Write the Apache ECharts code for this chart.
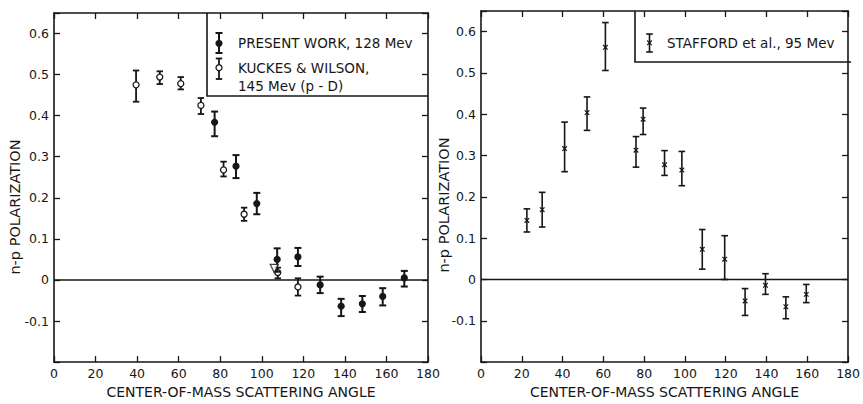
<!DOCTYPE html>
<html>
<head>
<meta charset="utf-8">
<title>n-p polarization</title>
<script src="https://cdn.jsdelivr.net/npm/echarts@6.0.0/dist/echarts.min.js"></script>
<style>
  html, body { margin: 0; padding: 0; background: #fff; }
  #chart { width: 863px; height: 404px; }
</style>
</head>
<body>
<div id="chart"></div>
<script>
// 左图：本工作 128 Mev（实心点）
const presentX  = [77.3, 87.6, 97.6, 107.4, 117.4, 128.1, 138.2, 148.4, 158.2, 168.6];
const presentY  = [0.384, 0.277, 0.186, 0.050, 0.056, -0.012, -0.064, -0.058, -0.040, 0.005];
const presentLo = [0.350, 0.248, 0.160, 0.020, 0.034, -0.032, -0.088, -0.078, -0.062, -0.016];
const presentHi = [0.410, 0.304, 0.212, 0.077, 0.078, 0.008, -0.046, -0.039, -0.020, 0.022];

// 左图：Kuckes & Wilson 145 Mev (p-D)（空心点）
const kuckesX  = [39.5, 50.9, 61.0, 70.7, 81.6, 91.5, 107.7, 117.4];
const kuckesY  = [0.475, 0.494, 0.478, 0.425, 0.268, 0.160, 0.018, -0.017];
const kuckesLo = [0.434, 0.477, 0.464, 0.404, 0.252, 0.144, 0.004, -0.038];
const kuckesHi = [0.510, 0.508, 0.494, 0.443, 0.288, 0.176, 0.030, 0.004];

// 左图：三角形标记
const triangleX = [106];
const triangleY = [0.028];

// 右图：Stafford et al. 95 Mev（叉号）
const staffordX  = [22.5, 30.0, 41.0, 52.0, 61.0, 76.0, 79.5, 90.0, 98.5, 108.5, 119.5, 129.5, 139.5, 149.5, 159.5];
const staffordY  = [0.143, 0.169, 0.317, 0.404, 0.562, 0.313, 0.388, 0.278, 0.265, 0.073, 0.049, -0.052, -0.014, -0.066, -0.036];
const staffordLo = [0.115, 0.127, 0.261, 0.361, 0.506, 0.272, 0.351, 0.252, 0.227, 0.025, 0.000, -0.087, -0.036, -0.095, -0.056];
const staffordHi = [0.171, 0.211, 0.381, 0.442, 0.622, 0.346, 0.415, 0.312, 0.310, 0.121, 0.106, -0.022, 0.014, -0.042, -0.012];

// 坐标轴范围与刻度
const xTicks = [0, 20, 40, 60, 80, 100, 120, 140, 160, 180];
const yTickLabels = ['-0.1', '0', '0.1', '0.2', '0.3', '0.4', '0.5', '0.6'];
const zeroLine = [[0, 0], [180, 0]];

const ink = '#161616';
const font = 'DejaVu Sans';

function rows(xs, ys, los, his) {
  return xs.map((x, i) => [x, ys[i], los[i], his[i]]);
}

function errorBars(kind, capW, lw) {
  return function (params, api) {
    const x = api.value(0);
    const p = api.coord([x, api.value(1)]);
    const lo = api.coord([x, api.value(2)]);
    const hi = api.coord([x, api.value(3)]);
    const line = (x1, y1, x2, y2, w) => ({
      type: 'line',
      shape: { x1: x1, y1: y1, x2: x2, y2: y2 },
      style: { stroke: ink, lineWidth: w }
    });
    const children = [
      line(p[0], hi[1], p[0], lo[1], lw),
      line(p[0] - capW, hi[1], p[0] + capW, hi[1], lw),
      line(p[0] - capW, lo[1], p[0] + capW, lo[1], lw)
    ];
    if (kind === 'filled') {
      children.push({ type: 'circle', shape: { cx: p[0], cy: p[1], r: 3.6 }, style: { fill: ink } });
    } else if (kind === 'open') {
      children.push({ type: 'circle', shape: { cx: p[0], cy: p[1], r: 3 }, style: { fill: '#fff', stroke: ink, lineWidth: 1.3 } });
    } else {
      children.push(line(p[0] - 2.3, p[1] - 2.3, p[0] + 2.3, p[1] + 2.3, 1.2));
      children.push(line(p[0] - 2.3, p[1] + 2.3, p[0] + 2.3, p[1] - 2.3, 1.2));
    }
    return { type: 'group', children: children };
  };
}

function xAxisPair(gridIndex) {
  const base = {
    gridIndex: gridIndex,
    type: 'value',
    min: xTicks[0],
    max: xTicks[xTicks.length - 1],
    interval: 20,
    splitLine: { show: false },
    axisLine: { onZero: false, lineStyle: { color: ink, width: 1.6 } },
    axisTick: { inside: true, length: 6, lineStyle: { color: ink, width: 1.3 } }
  };
  return [
    Object.assign({}, base, {
      position: 'bottom',
      name: 'CENTER-OF-MASS SCATTERING ANGLE',
      nameLocation: 'middle',
      nameGap: gridIndex === 0 ? 17 : 18,
      nameTextStyle: { fontFamily: font, fontSize: 14, color: ink },
      axisLabel: { fontFamily: font, fontSize: 12.5, color: ink, margin: 5 }
    }),
    Object.assign({}, base, { position: 'top', axisLabel: { show: false } })
  ];
}

function yAxisPair(gridIndex) {
  const base = {
    gridIndex: gridIndex,
    type: 'value',
    min: -0.2,
    max: 0.65,
    interval: 0.1,
    splitLine: { show: false },
    axisLine: { onZero: false, lineStyle: { color: ink, width: 1.6 } },
    axisTick: { inside: true, length: 6, lineStyle: { color: ink, width: 1.3 } }
  };
  return [
    Object.assign({}, base, {
      position: 'left',
      axisLabel: {
        fontFamily: font, fontSize: 12.5, color: ink, margin: 5,
        formatter: function (v) {
          const s = String(Math.round(v * 10) / 10);
          return yTickLabels.indexOf(s) >= 0 && Math.abs(v * 10 - Math.round(v * 10)) < 1e-6 ? s : '';
        }
      }
    }),
    Object.assign({}, base, { position: 'right', axisLabel: { show: false } })
  ];
}

const chart = echarts.init(document.getElementById('chart'), null, { renderer: 'svg' });

const option = {
  backgroundColor: '#fff',
  animation: false,
  grid: [
    { left: 54, top: 13, right: 435, bottom: 38 },
    { left: 481, top: 11, right: 12, bottom: 40 }
  ],
  xAxis: xAxisPair(0).concat(xAxisPair(1)),
  yAxis: yAxisPair(0).concat(yAxisPair(1)),
  series: [
    {
      type: 'line', xAxisIndex: 0, yAxisIndex: 0, data: zeroLine, symbol: 'none',
      lineStyle: { color: ink, width: 1.4 }, silent: true
    },
    {
      type: 'line', xAxisIndex: 2, yAxisIndex: 2, data: zeroLine, symbol: 'none',
      lineStyle: { color: ink, width: 1.4 }, silent: true
    },
    {
      name: 'KUCKES & WILSON, 145 Mev (p - D)',
      type: 'custom', xAxisIndex: 0, yAxisIndex: 0,
      renderItem: errorBars('open', 3.2, 1.8),
      encode: { x: 0, y: 1 },
      data: rows(kuckesX, kuckesY, kuckesLo, kuckesHi)
    },
    {
      name: 'PRESENT WORK, 128 Mev',
      type: 'custom', xAxisIndex: 0, yAxisIndex: 0,
      renderItem: errorBars('filled', 3.5, 2),
      encode: { x: 0, y: 1 },
      data: rows(presentX, presentY, presentLo, presentHi)
    },
    {
      type: 'scatter', xAxisIndex: 0, yAxisIndex: 0,
      symbol: 'triangle', symbolRotate: 180, symbolSize: 8,
      itemStyle: { color: '#fff', borderColor: ink, borderWidth: 1.3 },
      data: triangleX.map((x, i) => [x, triangleY[i]])
    },
    {
      name: 'STAFFORD et al., 95 Mev',
      type: 'custom', xAxisIndex: 2, yAxisIndex: 2,
      renderItem: errorBars('cross', 3.3, 1.6),
      encode: { x: 0, y: 1 },
      data: rows(staffordX, staffordY, staffordLo, staffordHi)
    }
  ],
  graphic: [
    // 纵轴标题
    {
      type: 'text', x: 15, y: 207, rotation: Math.PI / 2,
      style: { text: 'n-p POLARIZATION', fontFamily: font, fontSize: 14.5, fill: ink, align: 'center', verticalAlign: 'middle' }
    },
    {
      type: 'text', x: 444, y: 205, rotation: Math.PI / 2,
      style: { text: 'n-p POLARIZATION', fontFamily: font, fontSize: 14.5, fill: ink, align: 'center', verticalAlign: 'middle' }
    },
    // 左图图例
    {
      type: 'polyline', shape: { points: [[207, 13], [207, 96], [428, 96]] },
      style: { stroke: ink, lineWidth: 1.6, fill: null }
    },
    {
      type: 'group', children: [
        { type: 'line', shape: { x1: 219, y1: 33, x2: 219, y2: 53 }, style: { stroke: ink, lineWidth: 2 } },
        { type: 'line', shape: { x1: 215.5, y1: 33, x2: 222.5, y2: 33 }, style: { stroke: ink, lineWidth: 2 } },
        { type: 'line', shape: { x1: 215.5, y1: 53, x2: 222.5, y2: 53 }, style: { stroke: ink, lineWidth: 2 } },
        { type: 'circle', shape: { cx: 219, cy: 43.3, r: 3.6 }, style: { fill: ink } },
        { type: 'line', shape: { x1: 219, y1: 58.5, x2: 219, y2: 79 }, style: { stroke: ink, lineWidth: 1.8 } },
        { type: 'line', shape: { x1: 215.8, y1: 58.5, x2: 222.2, y2: 58.5 }, style: { stroke: ink, lineWidth: 1.8 } },
        { type: 'line', shape: { x1: 215.8, y1: 79, x2: 222.2, y2: 79 }, style: { stroke: ink, lineWidth: 1.8 } },
        { type: 'circle', shape: { cx: 219, cy: 67.7, r: 3 }, style: { fill: '#fff', stroke: ink, lineWidth: 1.3 } }
      ]
    },
    {
      type: 'text', x: 238, y: 43,
      style: { text: 'PRESENT WORK, 128 Mev', fontFamily: font, fontSize: 13.5, fill: ink, verticalAlign: 'middle' }
    },
    {
      type: 'text', x: 238, y: 68,
      style: { text: 'KUCKES & WILSON,', fontFamily: font, fontSize: 13.5, fill: ink, verticalAlign: 'middle' }
    },
    {
      type: 'text', x: 238, y: 86,
      style: { text: '145 Mev (p - D)', fontFamily: font, fontSize: 13.5, fill: ink, verticalAlign: 'middle' }
    },
    // 右图图例
    {
      type: 'polyline', shape: { points: [[635, 11], [635, 62], [851, 62]] },
      style: { stroke: ink, lineWidth: 1.6, fill: null }
    },
    {
      type: 'group', children: [
        { type: 'line', shape: { x1: 649.5, y1: 34, x2: 649.5, y2: 52 }, style: { stroke: ink, lineWidth: 1.6 } },
        { type: 'line', shape: { x1: 646.2, y1: 34, x2: 652.8, y2: 34 }, style: { stroke: ink, lineWidth: 1.6 } },
        { type: 'line', shape: { x1: 646.2, y1: 52, x2: 652.8, y2: 52 }, style: { stroke: ink, lineWidth: 1.6 } },
        { type: 'line', shape: { x1: 647.2, y1: 40.5, x2: 651.8, y2: 45.1 }, style: { stroke: ink, lineWidth: 1.2 } },
        { type: 'line', shape: { x1: 647.2, y1: 45.1, x2: 651.8, y2: 40.5 }, style: { stroke: ink, lineWidth: 1.2 } }
      ]
    },
    {
      type: 'text', x: 667, y: 43,
      style: { text: 'STAFFORD et al., 95 Mev', fontFamily: font, fontSize: 13.5, fill: ink, verticalAlign: 'middle' }
    }
  ]
};

chart.setOption(option);
window.addEventListener('resize', function () { chart.resize(); });
</script>
</body>
</html>
